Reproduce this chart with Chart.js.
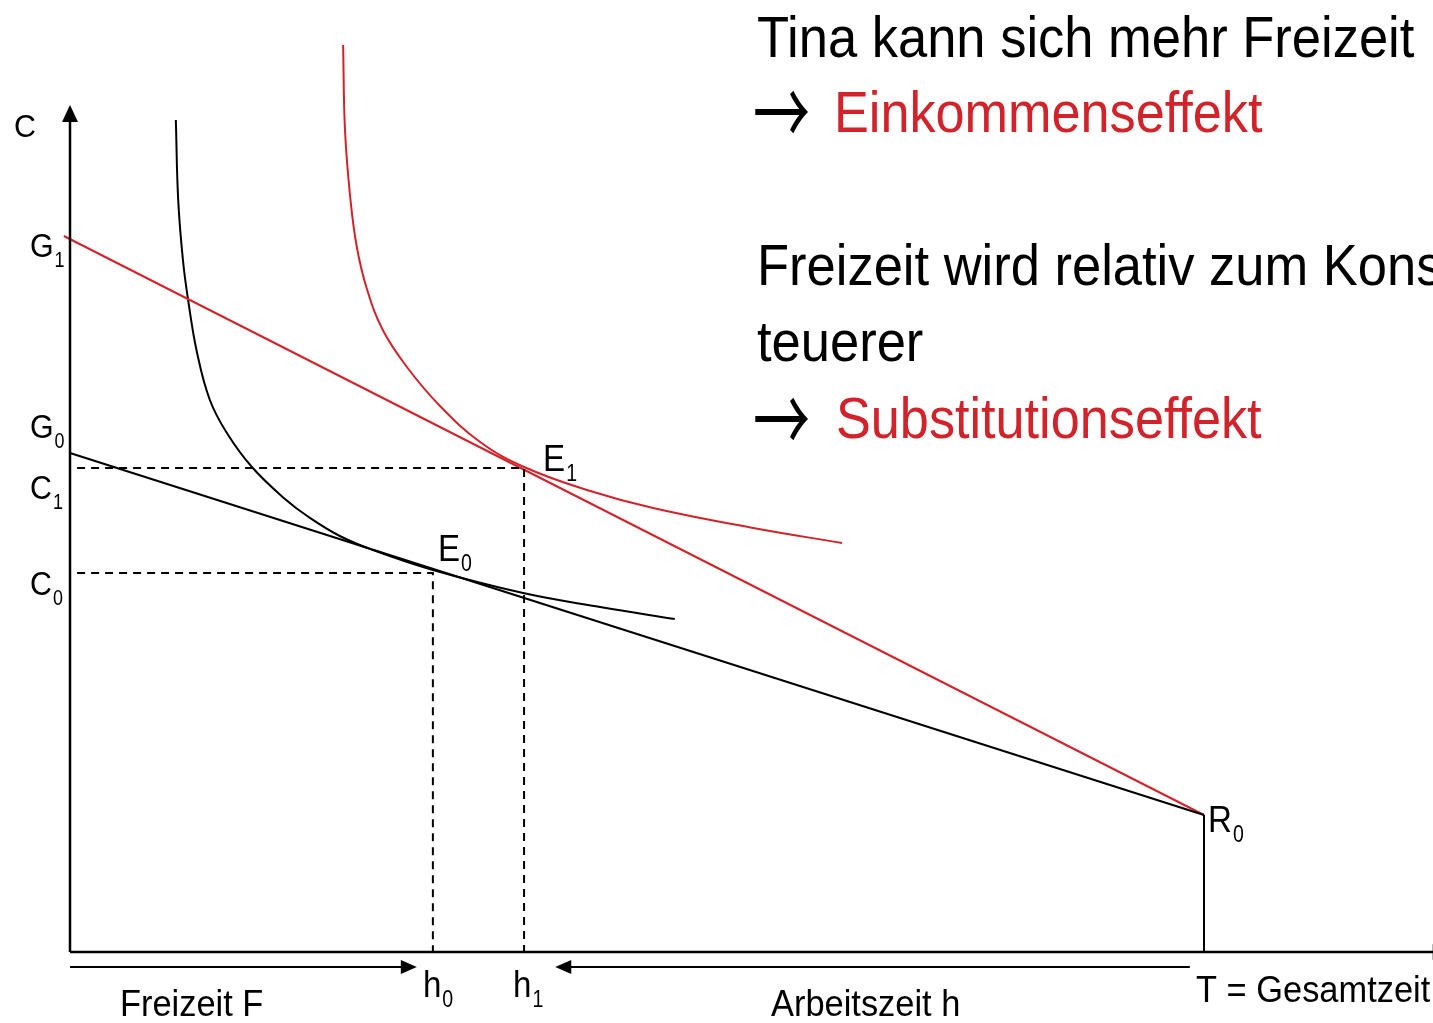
<!DOCTYPE html>
<html>
<head>
<meta charset="utf-8">
<script src="https://cdn.jsdelivr.net/npm/chart.js@4"></script>
<style>
  html, body { margin: 0; padding: 0; background: #fff; }
  canvas { display: block; }
</style>
</head>
<body>
<canvas id="chart" width="1433" height="1023"></canvas>
<script>
// x = hours (T = 24), y = consumption C
const T = 24;
const budgetOld = [{x: 0, y: 49.9}, {x: 24, y: 13.7}];
const budgetNew = [{x: -0.13, y: 71.6}, {x: 24, y: 13.7}];

const icOldX = [2.24, 2.29, 2.39, 2.50, 2.69, 2.96, 3.32, 3.85, 4.55, 5.02, 5.71, 6.41, 7.68, 9.59, 11.22, 12.80];
const icOldY = [83.2, 75.2, 69.2, 65.2, 59.9, 55.2, 51.9, 48.5, 45.3, 43.6, 41.6, 40.2, 38.2, 35.9, 34.5, 33.3];

const icNewX = [5.78, 5.82, 5.93, 6.07, 6.29, 6.62, 7.13, 7.83, 8.68, 9.61, 10.94, 12.34, 14.46, 16.34];
const icNewY = [90.7, 82.2, 75.5, 70.5, 66.2, 62.2, 58.5, 54.6, 51.0, 48.5, 46.2, 44.4, 42.4, 40.9];

const E0 = {x: 7.68, y: 37.9};
const E1 = {x: 9.61, y: 48.4};
const R0 = {x: T, y: 13.7};

const yAxisTop = 84.7;
const xAxisEnd = 29.2;
const arrowRowY = -1.5;
const freizeitArrow = [0, 7.34];
const arbeitArrow = [23.7, 10.27];

const yTickLabels = [['G', '1'], ['G', '0'], ['C', '1'], ['C', '0']];
const xTickLabels = [['h', '0'], ['h', '1']];

const RED = '#d2232a';
const FONT = '"Liberation Sans", Arial, sans-serif';
const ARROW_FONT = '"Noto Sans CJK JP", "DejaVu Sans", sans-serif';

function pts(xs, ys) {
    return xs.map((x, i) => ({x: x, y: ys[i]}));
}

function lineSet(data, color, width, dash) {
    return {
        data: data,
        showLine: true,
        borderColor: color,
        borderWidth: width,
        borderDash: dash || [],
        pointRadius: 0,
        fill: false,
        tension: 0
    };
}

function drawText(ctx, str, x, y, size, color, sx, family, weight, sy) {
    ctx.save();
    ctx.translate(x, y);
    ctx.scale(sx, sy || 1);
    ctx.font = (weight ? weight + ' ' : '') + size + 'px ' + (family || FONT);
    ctx.fillStyle = color;
    ctx.textBaseline = 'alphabetic';
    ctx.fillText(str, 0, 0);
    const w = ctx.measureText(str).width * sx;
    ctx.restore();
    return w;
}

function drawLabel(ctx, pair, x, y, size) {
    const w = drawText(ctx, pair[0], x, y, size, '#000', 0.92);
    drawText(ctx, pair[1], x + w + 1, y + 10, size * 0.68, '#000', 0.8);
}

function arrowHead(ctx, tipX, tipY, dir, len, half) {
    ctx.save();
    ctx.fillStyle = '#000';
    ctx.beginPath();
    if (dir === 'up') {
        ctx.moveTo(tipX, tipY);
        ctx.lineTo(tipX - half, tipY + len);
        ctx.lineTo(tipX + half, tipY + len);
    } else if (dir === 'right') {
        ctx.moveTo(tipX, tipY);
        ctx.lineTo(tipX - len, tipY - half);
        ctx.lineTo(tipX - len, tipY + half);
    } else {
        ctx.moveTo(tipX, tipY);
        ctx.lineTo(tipX + len, tipY - half);
        ctx.lineTo(tipX + len, tipY + half);
    }
    ctx.closePath();
    ctx.fill();
    ctx.restore();
}

const decorations = {
    id: 'decorations',
    afterDatasetsDraw(chart) {
        const ctx = chart.ctx;
        const xs = chart.scales.x, ys = chart.scales.y;
        const px = v => xs.getPixelForValue(v);
        const py = v => ys.getPixelForValue(v);

        // arrow heads
        arrowHead(ctx, px(0), py(yAxisTop), 'up', 17, 8);
        arrowHead(ctx, px(xAxisEnd), py(0), 'right', 17, 8);
        arrowHead(ctx, px(freizeitArrow[1]), py(arrowRowY), 'right', 16, 7);
        arrowHead(ctx, px(arbeitArrow[1]), py(arrowRowY), 'left', 16, 7);

        // axis labels
        drawText(ctx, 'C', 14, py(yAxisTop) + 32, 32, '#000', 0.95);
        const g1 = budgetNew[0].y + (budgetNew[1].y - budgetNew[0].y) * (0 - budgetNew[0].x) / (budgetNew[1].x - budgetNew[0].x);
        drawLabel(ctx, yTickLabels[0], 30, py(g1) + 18, 33);
        drawLabel(ctx, yTickLabels[1], 30, py(budgetOld[0].y) - 15, 33);
        drawLabel(ctx, yTickLabels[2], 30, py(E1.y) + 31, 33);
        drawLabel(ctx, yTickLabels[3], 30, py(E0.y) + 22, 33);

        drawLabel(ctx, xTickLabels[0], px(E0.x) - 10, py(0) + 45, 36);
        drawLabel(ctx, xTickLabels[1], px(E1.x) - 11, py(0) + 45, 36);

        drawLabel(ctx, ['E', '0'], px(E0.x) + 5, py(E0.y) - 12, 36);
        drawLabel(ctx, ['E', '1'], px(E1.x) + 19, py(E1.y) + 3, 36);
        drawLabel(ctx, ['R', '0'], px(R0.x) + 4, py(R0.y) + 17, 36);

        drawText(ctx, 'Freizeit F', 120, 1016, 37, '#000', 0.93);
        drawText(ctx, 'Arbeitszeit h', 771, 1016, 37, '#000', 0.93);
        drawText(ctx, 'T = Gesamtzeit', px(T) - 8, 1002, 37, '#000', 0.93);

        // commentary
        drawText(ctx, 'Tina kann sich mehr Freizeit', 757, 57, 58, '#000', 0.905);
        drawText(ctx, '\u2192', 753, 146, 60, '#000', 0.95, ARROW_FONT, 'normal', 1.5);
        drawText(ctx, 'Einkommenseffekt', 834, 132, 58, RED, 0.9);
        drawText(ctx, 'Freizeit wird relativ zum Konsum', 757, 285, 58, '#000', 0.905);
        drawText(ctx, 'teuerer', 757, 361, 58, '#000', 0.905);
        drawText(ctx, '\u2192', 753, 453, 60, '#000', 0.95, ARROW_FONT, 'normal', 1.5);
        drawText(ctx, 'Substitutionseffekt', 836, 438, 58, RED, 0.9);
    }
};

const curve = (data, color) => Object.assign(lineSet(data, color, 2), {tension: 0.4});

new Chart(document.getElementById('chart'), {
    type: 'scatter',
    data: {
        datasets: [
            // axes
            lineSet([{x: 0, y: 0}, {x: 0, y: yAxisTop - 1.6}], '#000', 2.5),
            lineSet([{x: 0, y: 0}, {x: xAxisEnd - 0.35, y: 0}], '#000', 2.5),
            lineSet([R0, {x: T, y: 0}], '#000', 2),
            lineSet([{x: freizeitArrow[0], y: arrowRowY}, {x: freizeitArrow[1] - 0.3, y: arrowRowY}], '#000', 2),
            lineSet([{x: arbeitArrow[0], y: arrowRowY}, {x: arbeitArrow[1] + 0.3, y: arrowRowY}], '#000', 2),
            // dashed guides
            lineSet([{x: 0.15, y: E1.y}, E1, {x: E1.x, y: 0}], '#000', 2, [8, 6]),
            lineSet([{x: 0.15, y: E0.y}, E0, {x: E0.x, y: 0}], '#000', 2, [8, 6]),
            // budget lines
            lineSet(budgetOld, '#000', 2),
            lineSet(budgetNew, RED, 2),
            // indifference curves
            curve(pts(icOldX, icOldY), '#000'),
            curve(pts(icNewX, icNewY), RED)
        ]
    },
    options: {
        responsive: false,
        animation: false,
        devicePixelRatio: 1,
        layout: {padding: 0},
        plugins: {legend: {display: false}, tooltip: {enabled: false}},
        scales: {
            x: {type: 'linear', min: -70 / 47.25, max: 1363 / 47.25, display: false},
            y: {type: 'linear', min: -7.1, max: 95.2, display: false}
        }
    },
    plugins: [decorations]
});
</script>
</body>
</html>
